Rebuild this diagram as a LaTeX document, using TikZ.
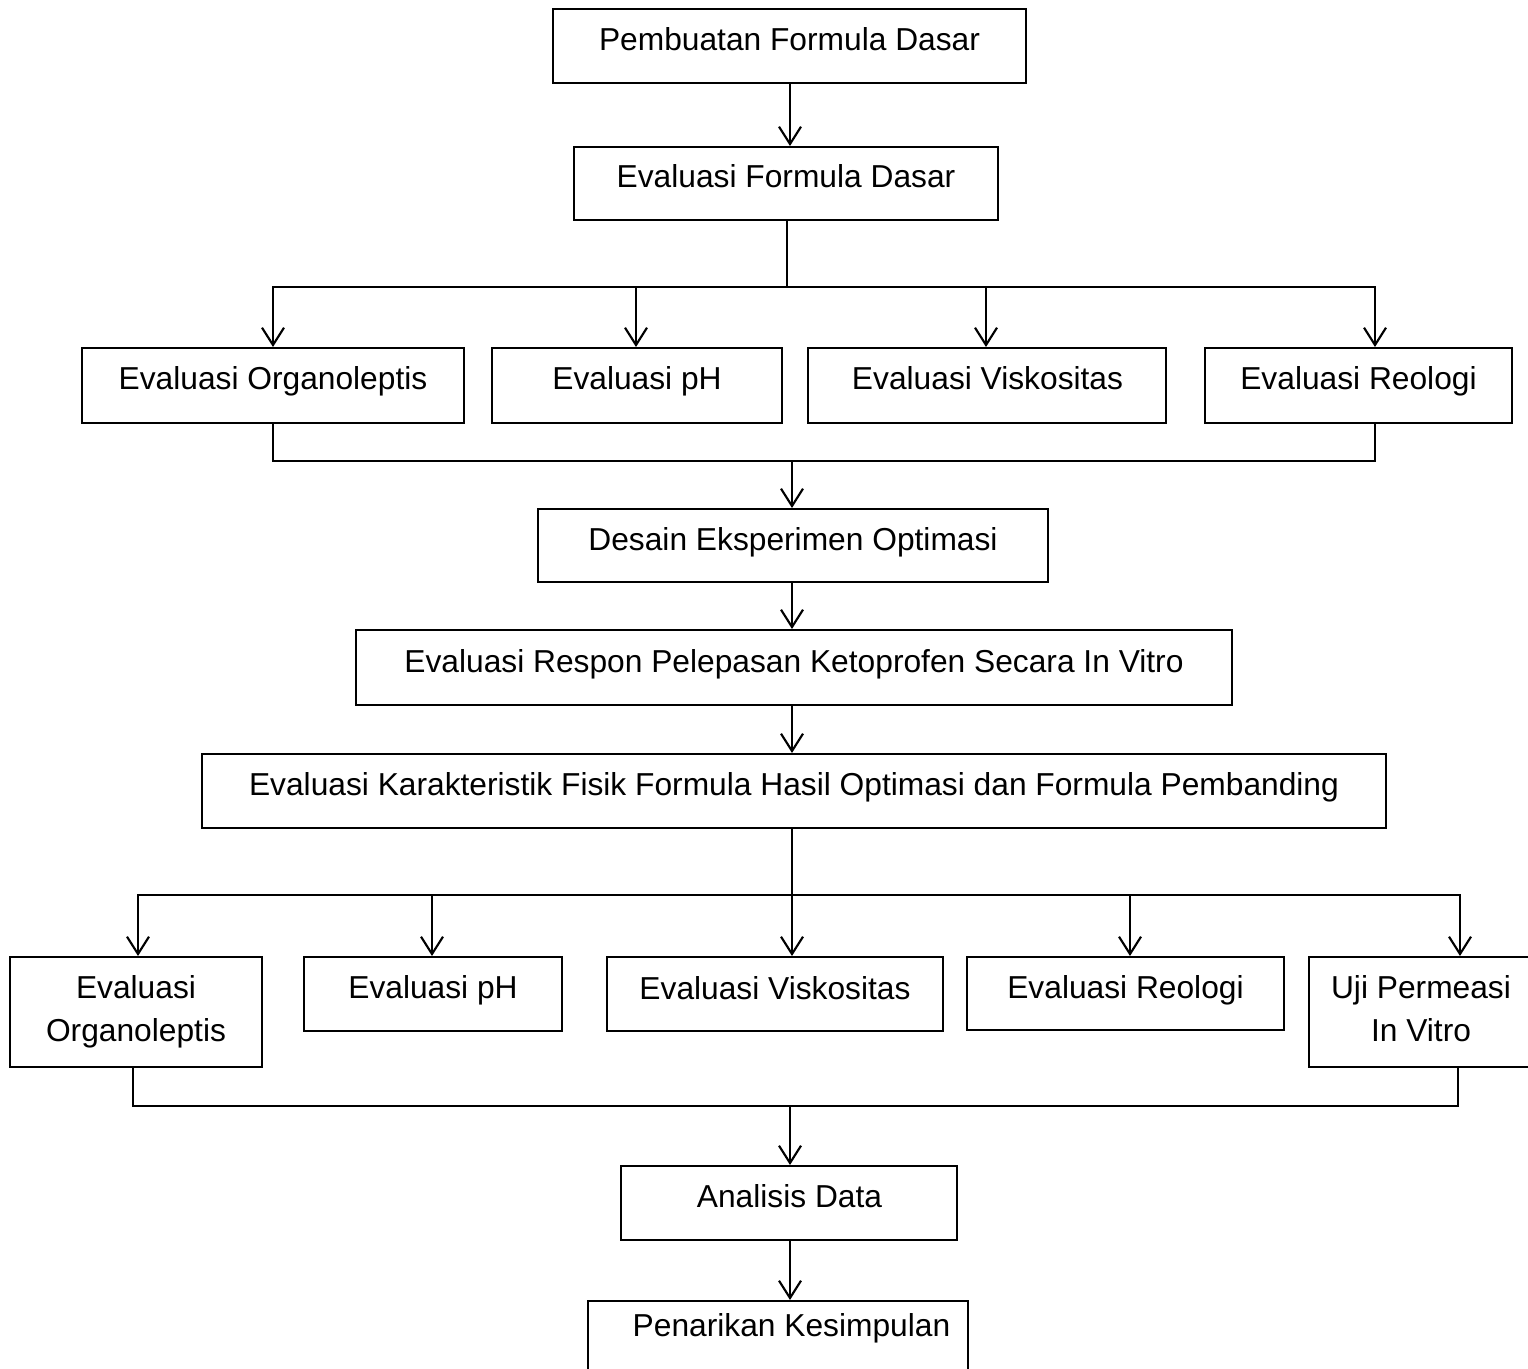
\documentclass[tikz,border=0pt]{standalone}
\usepackage{fontspec}
\setmainfont{Liberation Sans}
\usetikzlibrary{arrows.meta,fit}
\begin{document}
\begin{tikzpicture}[x=0.75pt,y=-0.75pt,
  box/.style={draw=black,line width=1.5pt,inner sep=0pt,fill=none},
  lbl/.style={anchor=base,inner sep=0pt,font=\fontsize{23.8}{28}\selectfont},
  wire/.style={draw=black,line width=1.5pt},
  bus/.style={wire,line cap=rect},
  arr/.style={wire,-{Straight Barb[length=13pt,width=16.5pt,line width=1.6pt]}}]
\clip (0,0) rectangle (1528,1369);
\fill[white] (0,0) rectangle (1528,1369);
% boxes
\node[box,fit={(553,9)(1026,83)}] (b1) {};
\node[box,fit={(574,147)(998,220)}] (b2) {};
\node[box,fit={(82,348)(464,423)}] (r1) {};
\node[box,fit={(492,348)(782,423)}] (r2) {};
\node[box,fit={(808,348)(1166,423)}] (r3) {};
\node[box,fit={(1205,348)(1512,423)}] (r4) {};
\node[box,fit={(538,509)(1048,582)}] (b4) {};
\node[box,fit={(356,630)(1232,705)}] (b5) {};
\node[box,fit={(202,754)(1386,828)}] (b6) {};
\node[box,fit={(10,957)(262,1067)}] (s1) {};
\node[box,fit={(304,957)(562,1031)}] (s2) {};
\node[box,fit={(607,957)(943,1031)}] (s3) {};
\node[box,fit={(967,957)(1284,1030)}] (s4) {};
\node[box,fit={(1309,957)(1545,1067)}] (s5) {};
\node[box,fit={(621,1166)(957,1240)}] (b8) {};
\node[box,fit={(588,1301)(968,1390)}] (b9) {};
% labels
\node[lbl] (t1) at (789.5,51) {Pembuatan Formula Dasar};
\node[lbl] (t2) at (786,188) {Evaluasi Formula Dasar};
\node[lbl] (tr1) at (273,390) {Evaluasi Organoleptis};
\node[lbl] (tr2) at (637,390) {Evaluasi pH};
\node[lbl] (tr3) at (987.5,390) {Evaluasi Viskositas};
\node[lbl] (tr4) at (1358.5,390) {Evaluasi Reologi};
\node[lbl] (t4) at (793,550) {Desain Eksperimen Optimasi};
\node[lbl] (t5) at (794,672) {Evaluasi Respon Pelepasan Ketoprofen Secara In Vitro};
\node[lbl] (t6) at (794,795) {Evaluasi Karakteristik Fisik Formula Hasil Optimasi dan Formula Pembanding};
\node[lbl] (ts1a) at (136,998) {Evaluasi};
\node[lbl] (ts1b) at (136,1041) {Organoleptis};
\node[lbl] (ts2) at (433,998) {Evaluasi pH};
\node[lbl] (ts3) at (775,999) {Evaluasi Viskositas};
\node[lbl] (ts4) at (1125.5,998) {Evaluasi Reologi};
\node[lbl] (ts5a) at (1421,998) {Uji Permeasi};
\node[lbl] (ts5b) at (1421,1041) {In Vitro};
\node[lbl] (t8) at (789.5,1207) {Analisis Data};
\node[lbl] (t9) at (791.5,1336) {Penarikan Kesimpulan};
% junction coordinates
\coordinate (j1) at (787,287);
\coordinate (h1l) at (273,287);
\coordinate (h1r) at (1375,287);
\coordinate (a2) at (636,287);
\coordinate (a3) at (986,287);
\coordinate (m1l) at (273,461);
\coordinate (m1r) at (1375,461);
\coordinate (m1c) at (792,461);
\coordinate (h2l) at (138,895);
\coordinate (h2r) at (1460,895);
\coordinate (c2) at (432,895);
\coordinate (c4) at (1130,895);
\coordinate (m2l) at (133,1106);
\coordinate (m2r) at (1458,1106);
\coordinate (m2c) at (790,1106);
% connectors
\draw[arr] (b1.south -| 790,0) -- (b2.north -| 790,0);
\draw[wire] (b2.south -| j1) -- (j1);
\draw[bus] (h1l) -- (h1r);
\draw[arr] (h1l) -- (h1l |- r1.north);
\draw[arr] (a2) -- (a2 |- r2.north);
\draw[arr] (a3) -- (a3 |- r3.north);
\draw[arr] (h1r) -- (h1r |- r4.north);
\draw[wire,line join=miter] (m1l |- r1.south) -- (m1l) -- (m1r) -- (m1r |- r4.south);
\draw[arr] (m1c) -- (m1c |- b4.north);
\draw[arr] (b4.south -| m1c) -- (b5.north -| m1c);
\draw[arr] (b5.south -| m1c) -- (b6.north -| m1c);
\draw[bus] (h2l) -- (h2r);
\draw[arr] (b6.south -| m1c) -- (s3.north -| m1c);
\draw[arr] (h2l) -- (h2l |- s1.north);
\draw[arr] (c2) -- (c2 |- s2.north);
\draw[arr] (c4) -- (c4 |- s4.north);
\draw[arr] (h2r) -- (h2r |- s5.north);
\draw[wire,line join=miter] (m2l |- s1.south) -- (m2l) -- (m2r) -- (m2r |- s5.south);
\draw[arr] (m2c) -- (m2c |- b8.north);
\draw[arr] (b8.south -| m2c) -- (b9.north -| m2c);
\end{tikzpicture}
\end{document}
